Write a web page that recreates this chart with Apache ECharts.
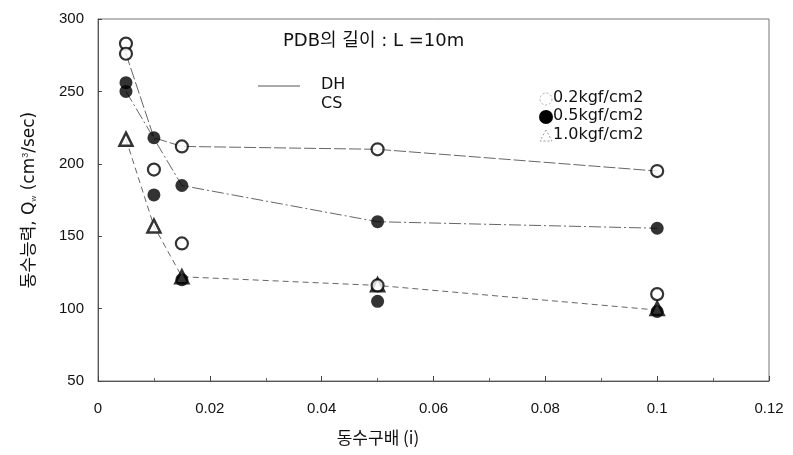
<!DOCTYPE html>
<html>
<head>
<meta charset="utf-8">
<script src="https://cdn.jsdelivr.net/npm/echarts@6/dist/echarts.min.js"></script>
<style>
  html, body { margin: 0; padding: 0; background: #fff; }
  #chart { width: 793px; height: 455px; }
</style>
</head>
<body>
<div id="chart"></div>
<script>
// Hydraulic gradient (i) vs. discharge capacity, PDB length L = 10 m
const xTicks = [0, 0.02, 0.04, 0.06, 0.08, 0.1, 0.12];
const yTicks = [50, 100, 150, 200, 250, 300];

// Measured points, grouped by marker type (0.2 / 0.5 / 1.0 kgf/cm2)
const open02 = [[0.005, 283], [0.005, 276], [0.01, 196], [0.015, 212], [0.015, 145],
                [0.05, 210], [0.05, 116], [0.1, 195], [0.1, 110]];
const filled05 = [[0.005, 256], [0.005, 250], [0.01, 218], [0.01, 178.5], [0.015, 185],
                  [0.015, 120], [0.05, 160], [0.05, 105], [0.1, 155.5], [0.1, 98]];
const tri10 = [[0.005, 217], [0.01, 157], [0.015, 122], [0.05, 116.5], [0.1, 100]];

// Trend lines drawn through the point groups
const lineA = [[0.005, 276], [0.01, 218], [0.015, 212], [0.05, 210], [0.1, 195]];
const lineB = [[0.005, 250], [0.015, 185], [0.05, 160], [0.1, 155.5]];
const lineC = [[0.005, 217], [0.01, 157], [0.015, 122], [0.05, 116], [0.1, 99]];

const FONT = '"Liberation Sans", Arial, "Noto Sans CJK KR", sans-serif';
const WFONT = '"DejaVu Sans", "Noto Sans CJK KR", sans-serif';
const KFONT = '"Noto Sans CJK KR", "DejaVu Sans", sans-serif';

const chart = echarts.init(document.getElementById('chart'), null, { renderer: 'canvas' });

function trend(data, dash) {
  return {
    type: 'line', data: data, symbol: 'none', silent: true, z: 1,
    lineStyle: { color: '#666', width: 1, type: dash }
  };
}

chart.setOption({
  animation: false,
  backgroundColor: '#fff',
  grid: { left: 98, right: 24, top: 19, bottom: 74, show: true, borderColor: '#777', borderWidth: 1 },
  xAxis: {
    type: 'value', min: xTicks[0], max: xTicks[xTicks.length - 1], interval: 0.02,
    axisLine: { lineStyle: { color: '#555', width: 1 } },
    axisTick: { inside: true, length: 5, lineStyle: { color: '#444' } },
    minorTick: { show: true, splitNumber: 2, length: 3, lineStyle: { color: '#666' } },
    splitLine: { show: false },
    axisLabel: { margin: 20, fontFamily: FONT, fontSize: 15, color: '#111',
                 formatter: v => String(+v.toFixed(2)) }
  },
  yAxis: {
    type: 'value', min: yTicks[0], max: yTicks[yTicks.length - 1], interval: 50,
    name: '동수능력, Q{sub|w} (cm{sup|3}/sec)', nameLocation: 'middle', nameGap: 60,
    nameTextStyle: { fontFamily: WFONT, fontSize: 17, color: '#111',
      rich: { sub: { fontSize: 8, verticalAlign: 'bottom', fontFamily: FONT, color: '#333' },
              sup: { fontSize: 9, verticalAlign: 'top', fontFamily: FONT, color: '#333' } } },
    axisLine: { lineStyle: { color: '#555', width: 1 } },
    axisTick: { inside: true, length: 4, lineStyle: { color: '#444' } },
    splitLine: { show: false },
    axisLabel: { margin: 14, fontFamily: FONT, fontSize: 15, color: '#111' }
  },
  series: [
    trend(lineA, [12, 3]),
    trend(lineB, [12, 3, 2, 3]),
    trend(lineC, [6, 4]),
    {
      type: 'scatter', data: tri10, symbol: 'triangle', symbolSize: 13, z: 3,
      itemStyle: { color: '#fff', borderColor: '#000', borderWidth: 2.5 }
    },
    {
      type: 'scatter', data: open02, symbol: 'circle', symbolSize: 12, z: 4,
      itemStyle: { color: '#fff', borderColor: '#000', borderWidth: 2.2 }
    },
    {
      type: 'scatter', data: filled05, symbol: 'circle', symbolSize: 13, z: 5,
      itemStyle: { color: '#000', borderColor: '#000', borderWidth: 0 }
    }
  ],
  graphic: [
    { type: 'text', x: 378, y: 438,
      style: { text: '동수구배 (i)', font: '17px ' + KFONT, fill: '#111',
               textAlign: 'center', textVerticalAlign: 'middle' } },
    { type: 'text', left: 283, top: 32,
      style: { text: 'PDB의 길이 : L =10m', font: '18px ' + WFONT, fill: '#111' } },
    { type: 'line', shape: { x1: 258, y1: 86, x2: 300, y2: 86 },
      style: { stroke: '#555', lineWidth: 1 } },
    { type: 'text', left: 321, top: 77,
      style: { text: 'DH', font: '16px ' + WFONT, fill: '#111' } },
    { type: 'text', left: 321, top: 96,
      style: { text: 'CS', font: '16px ' + WFONT, fill: '#111' } },
    { type: 'circle', shape: { cx: 546, cy: 99, r: 6 },
      style: { fill: '#fff', stroke: '#aaa', lineWidth: 1, lineDash: [2, 2] } },
    { type: 'text', left: 553, top: 90,
      style: { text: '0.2kgf/cm2', font: '16px ' + WFONT, fill: '#111' } },
    { type: 'circle', shape: { cx: 546, cy: 117, r: 7 }, style: { fill: '#000' } },
    { type: 'text', left: 553, top: 108,
      style: { text: '0.5kgf/cm2', font: '16px ' + WFONT, fill: '#111' } },
    { type: 'polygon', shape: { points: [[546, 130], [540, 141], [552, 141]] },
      style: { fill: '#fff', stroke: '#999', lineWidth: 1, lineDash: [2, 2] } },
    { type: 'text', left: 553, top: 127,
      style: { text: '1.0kgf/cm2', font: '16px ' + WFONT, fill: '#111' } }
  ]
});
</script>
</body>
</html>
